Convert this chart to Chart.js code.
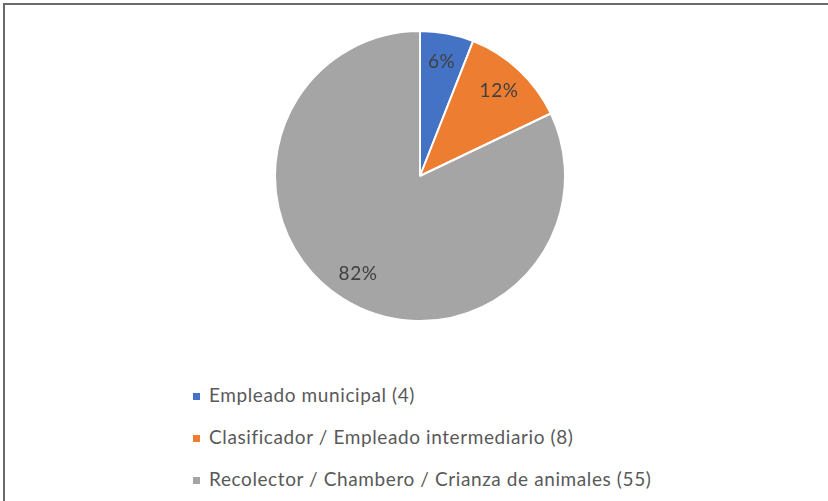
<!DOCTYPE html>
<html>
<head>
<meta charset="utf-8">
<script src="https://cdn.jsdelivr.net/npm/chart.js@4/dist/chart.umd.min.js"></script>
<style>
  html, body { margin: 0; padding: 0; background: #fff; }
  body { width: 828px; height: 501px; position: relative; overflow: hidden; font-family: 'Lato', sans-serif; }
  .frame { position: absolute; left: 3px; top: 3px; right: 0; bottom: 0; border-top: 2px solid #6a6a6a; border-left: 2px solid #6a6a6a; }
  .pie { position: absolute; left: 274px; top: 30px; width: 292px; height: 292px; }
  #legend { position: absolute; left: 193px; top: 380px; margin: 0; padding: 0; list-style: none; }
  #legend li { height: 42px; line-height: 30px; font-size: 19px; letter-spacing: 0.6px; color: #595959; white-space: nowrap; }
  #legend span { display: inline-block; width: 7px; height: 7px; margin-right: 9px; vertical-align: middle; position: relative; top: -1px; }
</style>
</head>
<body>
<div class="frame"></div>
<div class="pie"><canvas id="chartPie"></canvas></div>
<ul id="legend"></ul>
<script>
// Datos
const categorias = ['Empleado municipal (4)', 'Clasificador / Empleado intermediario (8)', 'Recolector / Chambero / Crianza de animales (55)'];
const valores = [4, 8, 55];
const porcentajes = ['6%', '12%', '82%'];
const colores = ['#4472C4', '#ED7D31', '#A5A5A5'];

// Etiquetas de porcentaje dentro de cada sector
const etiquetasPlugin = {
    id: 'etiquetas',
    afterDatasetsDraw(chart) {
        const ctx = chart.ctx;
        const meta = chart.getDatasetMeta(0);
        ctx.save();
        ctx.font = "19px 'Lato', sans-serif";
        ctx.letterSpacing = '0.6px';
        ctx.fillStyle = '#404040';
        ctx.textAlign = 'center';
        ctx.textBaseline = 'middle';
        meta.data.forEach((arc, i) => {
            const p = arc.getProps(['x', 'y', 'startAngle', 'endAngle', 'outerRadius'], true);
            const mid = (p.startAngle + p.endAngle) / 2;
            const r = p.outerRadius * 0.8;
            ctx.fillText(porcentajes[i], p.x + Math.cos(mid) * r, p.y + Math.sin(mid) * r);
        });
        ctx.restore();
    }
};

document.addEventListener('DOMContentLoaded', () => {
    const ctxPie = document.getElementById('chartPie').getContext('2d');
    new Chart(ctxPie, {
        type: 'pie',
        data: {
            labels: categorias,
            datasets: [{
                data: valores,
                backgroundColor: colores,
                borderColor: '#ffffff',
                borderWidth: 2
            }]
        },
        options: {
            responsive: true,
            maintainAspectRatio: false,
            animation: false,
            layout: { padding: 0 },
            plugins: { legend: { display: false }, tooltip: { enabled: false } }
        },
        plugins: [etiquetasPlugin]
    });

    // Leyenda HTML
    const ul = document.getElementById('legend');
    categorias.forEach((c, i) => {
        const li = document.createElement('li');
        li.innerHTML = '<span style="background:' + colores[i] + '"></span>' + c;
        ul.appendChild(li);
    });
});
</script>
</body>
</html>
